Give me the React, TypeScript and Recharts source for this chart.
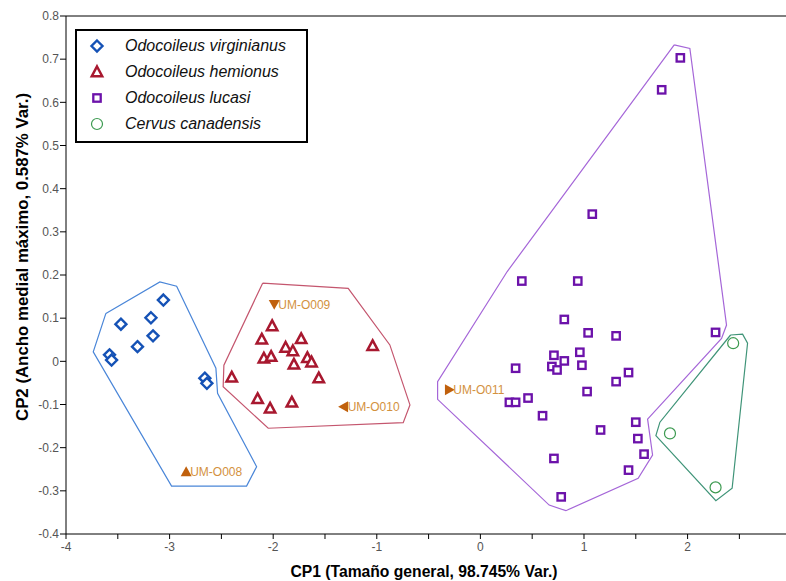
import React from "react";
import {
  ScatterChart,
  Scatter,
  XAxis,
  YAxis,
  ReferenceLine,
  Label,
} from "recharts";

// PCA scores per species (CP1, CP2)
const virginianus = [
  { x: -3.06, y: 0.142 },
  { x: -3.47, y: 0.086 },
  { x: -3.18, y: 0.101 },
  { x: -3.16, y: 0.059 },
  { x: -3.31, y: 0.034 },
  { x: -3.58, y: 0.015 },
  { x: -3.56, y: 0.003 },
  { x: -2.66, y: -0.039 },
  { x: -2.64, y: -0.051 },
];

const hemionus = [
  { x: -2.01, y: 0.082 },
  { x: -2.11, y: 0.051 },
  { x: -1.73, y: 0.052 },
  { x: -1.88, y: 0.032 },
  { x: -1.81, y: 0.024 },
  { x: -2.09, y: 0.007 },
  { x: -2.02, y: 0.011 },
  { x: -1.8, y: -0.007 },
  { x: -1.67, y: 0.008 },
  { x: -1.63, y: -0.002 },
  { x: -1.56, y: -0.039 },
  { x: -2.4, y: -0.037 },
  { x: -2.15, y: -0.087 },
  { x: -2.03, y: -0.109 },
  { x: -1.82, y: -0.095 },
  { x: -1.04, y: 0.036 },
];

const lucasi = [
  { x: 0.4, y: 0.186 },
  { x: 0.94, y: 0.186 },
  { x: 0.81, y: 0.097 },
  { x: 1.04, y: 0.066 },
  { x: 1.31, y: 0.059 },
  { x: 2.27, y: 0.067 },
  { x: 0.71, y: 0.014 },
  { x: 0.81, y: 0.001 },
  { x: 0.96, y: 0.021 },
  { x: 0.69, y: -0.012 },
  { x: 0.74, y: -0.02 },
  { x: 0.98, y: -0.009 },
  { x: 0.34, y: -0.016 },
  { x: 1.43, y: -0.026 },
  { x: 1.31, y: -0.047 },
  { x: 1.03, y: -0.07 },
  { x: 0.46, y: -0.085 },
  { x: 0.28, y: -0.095 },
  { x: 0.34, y: -0.095 },
  { x: 0.6, y: -0.126 },
  { x: 1.16, y: -0.159 },
  { x: 1.5, y: -0.141 },
  { x: 1.52, y: -0.179 },
  { x: 1.58, y: -0.215 },
  { x: 0.71, y: -0.225 },
  { x: 1.43, y: -0.252 },
  { x: 0.78, y: -0.314 },
  { x: 1.93, y: 0.703 },
  { x: 1.75, y: 0.629 },
  { x: 1.08, y: 0.341 },
];

const canadensis = [
  { x: 2.44, y: 0.042 },
  { x: 1.83, y: -0.167 },
  { x: 2.27, y: -0.292 },
];

// convex hulls (closed: first point repeated)
const hullVirginianus = [
  { x: -3.615, y: 0.111 },
  { x: -3.094, y: 0.184 },
  { x: -2.932, y: 0.174 },
  { x: -2.553, y: -0.016 },
  { x: -2.537, y: -0.074 },
  { x: -2.16, y: -0.244 },
  { x: -2.257, y: -0.289 },
  { x: -2.981, y: -0.289 },
  { x: -3.737, y: 0.022 },
  { x: -3.615, y: 0.111 },
];

const hullHemionus = [
  { x: -2.102, y: 0.181 },
  { x: -1.276, y: 0.169 },
  { x: -0.874, y: 0.038 },
  { x: -0.68, y: -0.101 },
  { x: -0.745, y: -0.142 },
  { x: -2.048, y: -0.155 },
  { x: -2.483, y: -0.059 },
  { x: -2.476, y: -0.009 },
  { x: -2.102, y: 0.181 },
];

const hullLucasi = [
  { x: 1.871, y: 0.733 },
  { x: 2.022, y: 0.725 },
  { x: 2.376, y: 0.084 },
  { x: 2.328, y: 0.053 },
  { x: 1.614, y: -0.134 },
  { x: 1.662, y: -0.217 },
  { x: 1.523, y: -0.271 },
  { x: 0.825, y: -0.346 },
  { x: 0.664, y: -0.333 },
  { x: -0.413, y: -0.088 },
  { x: -0.413, y: -0.047 },
  { x: 0.259, y: 0.208 },
  { x: 1.871, y: 0.733 },
];

const hullCanadensis = [
  { x: 2.415, y: 0.061 },
  { x: 2.531, y: 0.063 },
  { x: 2.579, y: 0.042 },
  { x: 2.43, y: -0.294 },
  { x: 2.273, y: -0.323 },
  { x: 1.694, y: -0.172 },
  { x: 1.733, y: -0.141 },
  { x: 2.415, y: 0.061 },
];

// unassigned specimens
const specimens = [
  { x: -2.84, y: -0.256, name: "UM-O008", dir: "up" },
  { x: -1.99, y: 0.132, name: "UM-O009", dir: "down" },
  { x: -1.32, y: -0.105, name: "UM-O010", dir: "left" },
  { x: -0.3, y: -0.066, name: "UM-O011", dir: "right" },
];

const xTicks = [-4, -3.5, -3, -2.5, -2, -1.5, -1, -0.5, 0, 0.5, 1, 1.5, 2, 2.5];
const yTicks = [-0.4, -0.3, -0.2, -0.1, 0, 0.1, 0.2, 0.3, 0.4, 0.5, 0.6, 0.7, 0.8];

const C_BLUE = "#1552b6";
const C_RED = "#a8182f";
const C_PURPLE = "#6c12aa";
const C_GREEN = "#3c9a50";
const C_ORANGE = "#c0600c";

const FONT = "'Liberation Sans', Arial, sans-serif";

const Diamond = ({ cx, cy, color = C_BLUE }: any) => (
  <path
    d={`M${cx},${cy - 5.5} L${cx + 5.5},${cy} L${cx},${cy + 5.5} L${cx - 5.5},${cy} Z`}
    fill="#fff"
    stroke={color}
    strokeWidth={2.4}
  />
);

const Triangle = ({ cx, cy, color = C_RED }: any) => (
  <path
    d={`M${cx},${cy - 5.5} L${cx + 5.2},${cy + 4.2} L${cx - 5.2},${cy + 4.2} Z`}
    fill="#fff"
    stroke={color}
    strokeWidth={2.5}
    strokeLinejoin="miter"
  />
);

const Square = ({ cx, cy, color = C_PURPLE }: any) => (
  <rect x={cx - 3.7} y={cy - 3.7} width={7.4} height={7.4} fill="#fff" stroke={color} strokeWidth={2.3} />
);

const Circle = ({ cx, cy, color = C_GREEN }: any) => (
  <circle cx={cx} cy={cy} r={5.5} fill="#fff" stroke={color} strokeWidth={1.2} />
);

const NoDot = () => <g />;

const Specimen = ({ cx, cy, payload }: any) => {
  const s = 5.5;
  let d = "";
  if (payload.dir === "up") d = `M${cx},${cy - s} L${cx + s},${cy + s * 0.8} L${cx - s},${cy + s * 0.8} Z`;
  if (payload.dir === "down") d = `M${cx},${cy + s} L${cx + s},${cy - s * 0.8} L${cx - s},${cy - s * 0.8} Z`;
  if (payload.dir === "left") d = `M${cx - s},${cy} L${cx + s * 0.8},${cy - s} L${cx + s * 0.8},${cy + s} Z`;
  if (payload.dir === "right") d = `M${cx + s},${cy} L${cx - s * 0.8},${cy - s} L${cx - s * 0.8},${cy + s} Z`;
  return (
    <g>
      <path d={d} fill={C_ORANGE} />
      <text x={cx + 4} y={cy + 4.5} fontSize={12} fontFamily={FONT} fill="#d3913e">
        {payload.name}
      </text>
    </g>
  );
};

const legendItems = [
  { label: "Odocoileus virginianus", icon: Diamond },
  { label: "Odocoileus hemionus", icon: Triangle },
  { label: "Odocoileus lucasi", icon: Square },
  { label: "Cervus canadensis", icon: Circle },
];

// legend box sits over the upper-left of the plot
const LegendBox = () => (
  <div
    style={{
      position: "absolute",
      left: 75,
      top: 29,
      width: 229,
      height: 108,
      border: "2px solid #000",
      background: "#fff",
      paddingTop: 2,
      boxSizing: "content-box",
    }}
  >
    {legendItems.map((it) => {
      const Icon = it.icon;
      return (
        <div key={it.label} style={{ display: "flex", alignItems: "center", height: 26 }}>
          <svg width={40} height={26} style={{ flex: "none" }}>
            <Icon cx={20} cy={13} />
          </svg>
          <span
            style={{
              marginLeft: 8,
              fontFamily: FONT,
              fontStyle: "italic",
              fontSize: 16,
              color: "#111",
            }}
          >
            {it.label}
          </span>
        </div>
      );
    })}
  </div>
);

export default function App() {
  return (
    <div style={{ position: "absolute", left: 0, top: 0, width: 786, height: 581, background: "#fff" }}>
      <ScatterChart width={786} height={581} margin={{ top: 16, right: 0, bottom: 0, left: 0 }}>
        <XAxis
          type="number"
          dataKey="x"
          domain={[-4, 2.95]}
          ticks={xTicks}
          interval={0}
          allowDataOverflow
          height={47}
          tickSize={5}
          tickMargin={3}
          stroke="#000"
          tick={{ fill: "#555", fontSize: 12, fontFamily: FONT }}
          tickFormatter={(v: number) => (Number.isInteger(v) ? String(v) : "")}
        >
          <Label
            content={() => (
              <text
                x={424}
                y={577}
                textAnchor="middle"
                fontFamily={FONT}
                fontWeight="bold"
                fontSize={16}
                textLength={267}
                lengthAdjust="spacingAndGlyphs"
                fill="#000"
              >
                CP1 (Tamaño general, 98.745% Var.)
              </text>
            )}
          />
        </XAxis>
        <YAxis
          type="number"
          dataKey="y"
          domain={[-0.4, 0.8]}
          ticks={yTicks}
          interval={0}
          allowDataOverflow
          width={66}
          tickSize={6}
          tickMargin={1}
          stroke="#000"
          tick={{ fill: "#555", fontSize: 12, fontFamily: FONT }}
          tickFormatter={(v: number) => String(v)}
        >
          <Label
            content={() => (
              <text
                x={0}
                y={0}
                transform="translate(28,257) rotate(-90)"
                textAnchor="middle"
                fontFamily={FONT}
                fontWeight="bold"
                fontSize={16}
                textLength={328}
                lengthAdjust="spacingAndGlyphs"
                fill="#000"
              >
                CP2 (Ancho medial máximo, 0.587% Var.)
              </text>
            )}
          />
        </YAxis>
        <ReferenceLine y={0.8} stroke="#000" strokeWidth={1} />

        <Scatter data={hullVirginianus} line={{ stroke: "#4a86d8", strokeWidth: 1.2 }} shape={NoDot} isAnimationActive={false} legendType="none" />
        <Scatter data={hullHemionus} line={{ stroke: "#c4566e", strokeWidth: 1.2 }} shape={NoDot} isAnimationActive={false} legendType="none" />
        <Scatter data={hullLucasi} line={{ stroke: "#a566d8", strokeWidth: 1.2 }} shape={NoDot} isAnimationActive={false} legendType="none" />
        <Scatter data={hullCanadensis} line={{ stroke: "#3f9478", strokeWidth: 1.2 }} shape={NoDot} isAnimationActive={false} legendType="none" />

        <Scatter name="Odocoileus virginianus" data={virginianus} shape={(p: any) => <Diamond {...p} />} isAnimationActive={false} />
        <Scatter name="Odocoileus hemionus" data={hemionus} shape={(p: any) => <Triangle {...p} />} isAnimationActive={false} />
        <Scatter name="Odocoileus lucasi" data={lucasi} shape={(p: any) => <Square {...p} />} isAnimationActive={false} />
        <Scatter name="Cervus canadensis" data={canadensis} shape={(p: any) => <Circle {...p} />} isAnimationActive={false} />
        <Scatter data={specimens} shape={(p: any) => <Specimen {...p} />} isAnimationActive={false} legendType="none" />
      </ScatterChart>
      <LegendBox />
    </div>
  );
}
